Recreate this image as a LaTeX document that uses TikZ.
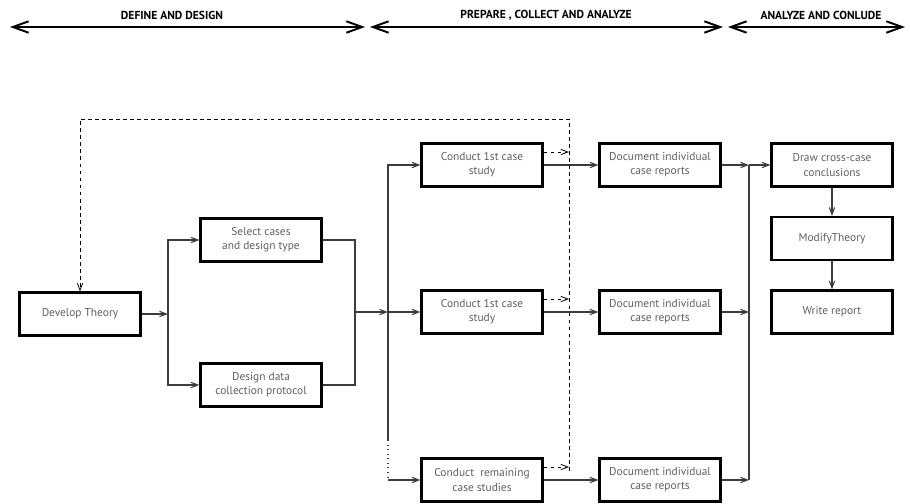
\documentclass[tikz,border=0pt]{standalone}
\usepackage{fontspec}
\setmainfont{PT Sans}
\usepackage{tikz}
\usetikzlibrary{positioning, arrows.meta, calc}
\usepackage{xcolor}
\definecolor{boxtext}{RGB}{95, 95, 95}
\definecolor{wire}{RGB}{60, 60, 60}

\begin{document}
\begin{tikzpicture}[x=0.02cm, y=-0.02cm, >={Straight Barb[length=4pt, width=3pt]},
  box/.style={draw, line width=1.2pt, minimum width=2.42cm, minimum height=0.86cm,
              align=center, text=boxtext, font=\fontsize{6.5}{8}\selectfont},
  wireline/.style={wire, line width=0.6pt},
  fb/.style={black, line width=0.45pt, dashed, dash pattern=on 2.2pt off 1.8pt},
  phase/.style={line width=1.1pt, {Straight Barb[length=9pt, width=6.5pt]}-{Straight Barb[length=9pt, width=6.5pt]}},
  phaselabel/.style={font=\bfseries\fontsize{6.6}{8}\selectfont}]
  \useasboundingbox (0,0) rectangle (910,504);

  % Phase bar
  \foreach \n/\a/\b in {ph1/10/365, ph2/370/723, ph3/728/905}{
    \coordinate (\n l) at (\a, 27);
    \coordinate (\n r) at (\b, 27);
    \draw[phase] (\n l) -- (\n r);
  }
  \node[phaselabel] (t1) at (172, 15) {DEFINE AND DESIGN};
  \node[phaselabel] (t2) at (546, 15) {PREPARE , COLLECT AND ANALYZE};
  \node[phaselabel] (t3) at (821, 15) {ANALYZE AND CONLUDE};

  % Define and design
  \node[box] (dev) at (80, 314) {Develop Theory};
  \node[box] (sel) at (261, 240) {Select cases\\and design type};
  \node[box] (des) at (261, 385) {Design data\\collection protocol};

  % Cases and reports
  \foreach \r/\i in {165/1, 312/2}{
    \node[box] (c\i) at (482, \r) {Conduct 1st case\\study};
    \node[box] (d\i) at (660, \r) {Document individual\\case reports};
  }
  \node[box] (c3) at (482, 480) {Conduct \ remaining\\case studies};
  \node[box] (d3) at (660, 480) {Document individual\\case reports};

  % Conclude
  \node[box] (cross) at (832, 165) {Draw cross-case\\conclusions};
  \node[box] (mod) at (832, 238.5) {ModifyTheory};
  \node[box] (wr) at (832, 312) {Write report};

  % Wiring
  \coordinate (fork) at (168, 314);
  \coordinate (join) at (355, 312);
  \coordinate (split) at (388, 312);
  \coordinate (gap) at (388, 440);
  \coordinate (merge) at (749, 312);
  \coordinate (lt) at (569, 119);
  \coordinate (lb) at (569, 471);

  \draw[wireline, ->] (dev) -- (fork);
  \draw[wireline, ->] (fork) |- (sel);
  \draw[wireline, ->] (fork) |- (des);
  \draw[wireline] (sel) -| (join);
  \draw[wireline] (des) -| (join);
  \draw[wireline, ->] (join) -- (split);
  \draw[wireline, ->] (split) |- (c1);
  \draw[wireline, ->] (split) -- (c2);
  \draw[wireline] (split) -- (gap);
  \draw[wireline, dotted, line width=0.9pt] (gap) -- (gap |- c3);
  \draw[wireline, ->] (gap |- c3) -- (c3);

  \foreach \i in {1,2,3}{
    \draw[wireline, ->] (c\i) -- (d\i);
    \draw[wireline, ->] (d\i) -- (d\i -| merge);
    \draw[fb, ->] ([yshift=0.26cm]c\i.east) -- ([yshift=0.26cm]c\i.east -| lt);
  }
  \draw[wireline] (d1 -| merge) -- (d3 -| merge);
  \draw[wireline, ->] (d1 -| merge) -- (cross);
  \draw[wireline, ->] (cross) -- (mod);
  \draw[wireline, ->] (mod) -- (wr);

  % Feedback loop
  \draw[fb, ->] (lb) -- (lt) -| (dev);
\end{tikzpicture}
\end{document}
